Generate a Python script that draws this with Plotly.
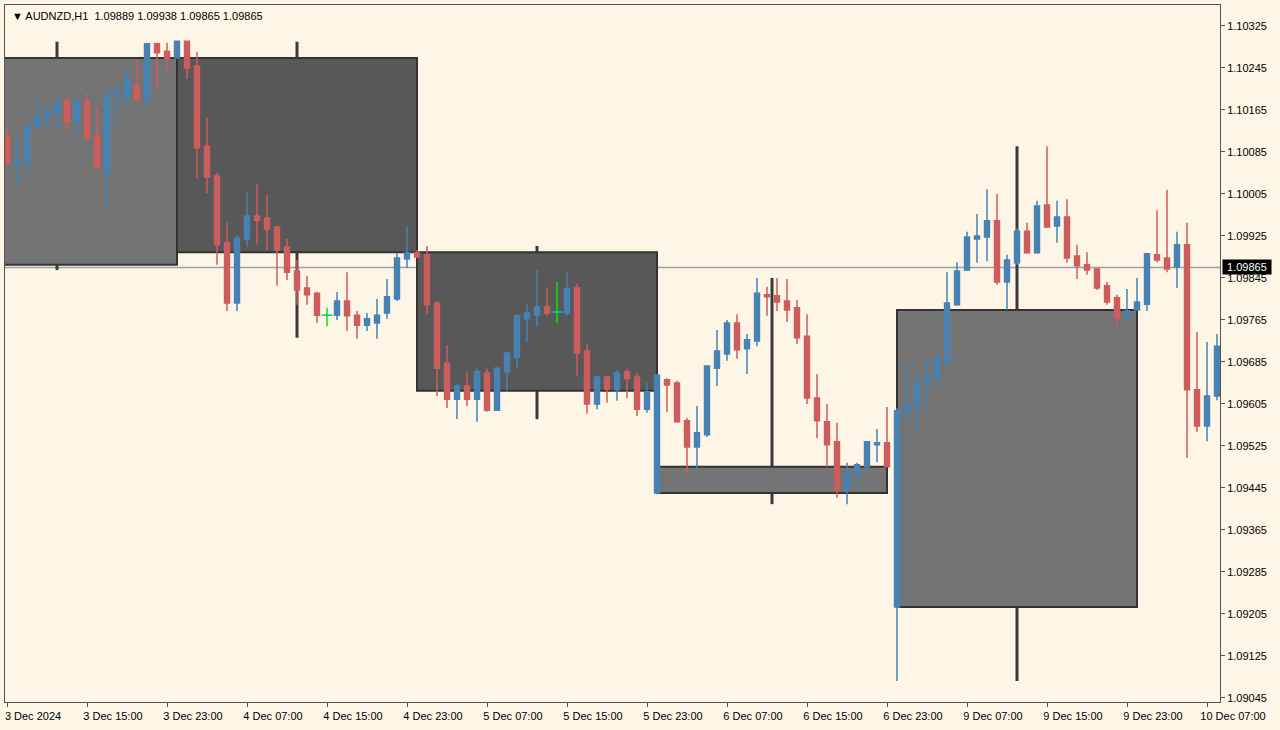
import plotly.graph_objects as go

# hourly AUDNZD bars, index 0 = 3 Dec 07:00
opens = [1.10115, 1.10062, 1.10064, 1.10133, 1.10150, 1.10159, 1.10182, 1.10142, 1.10182, 1.10117,
         1.10043, 1.10190, 1.10190, 1.10211, 1.10186, 1.10291, 1.10277, 1.10264, 1.10296, 1.10249,
         1.10096, 1.10039, 1.09912, 1.09797, 1.09919, 1.09963, 1.09959, 1.09942, 1.09904, 1.09858,
         1.09826, 1.09816, 1.09774, 1.09774, 1.09801, 1.09774, 1.09755, 1.09759, 1.09778, 1.09805,
         1.09881, 1.09893, 1.09889, 1.09797, 1.09683, 1.09614, 1.09639, 1.09614, 1.09664, 1.09593,
         1.09666, 1.09694, 1.09767, 1.09774, 1.09790, 1.09780, 1.09778, 1.09826, 1.09706, 1.09605,
         1.09656, 1.09632, 1.09666, 1.09656, 1.09595, 1.09435, 1.09651, 1.09645, 1.09573, 1.09523,
         1.09546, 1.09673, 1.09700, 1.09759, 1.09710, 1.09725, 1.09813, 1.09811, 1.09801, 1.09788,
         1.09734, 1.09616, 1.09571, 1.09533, 1.09441, 1.09470, 1.09485, 1.09527, 1.09531, 1.09218,
         1.09588, 1.09599, 1.09645, 1.09653, 1.09685, 1.09794, 1.09860, 1.09919, 1.09923, 1.09954,
         1.09837, 1.09874, 1.09934, 1.09893, 1.09984, 1.09944, 1.09961, 1.09887, 1.09870, 1.09862,
         1.09830, 1.09807, 1.09771, 1.09784, 1.09795, 1.09889, 1.09883, 1.09866, 1.09908, 1.09632,
         1.09563, 1.09620]
highs = [1.10133, 1.10110, 1.10146, 1.10180, 1.10175, 1.10190, 1.10190, 1.10186, 1.10197, 1.10169,
         1.10209, 1.10216, 1.10245, 1.10260, 1.10293, 1.10293, 1.10293, 1.10296, 1.10296, 1.10275,
         1.10150, 1.10045, 1.09950, 1.09927, 1.10009, 1.10024, 1.10003, 1.09942, 1.09919, 1.09879,
         1.09849, 1.09818, 1.09788, 1.09818, 1.09856, 1.09782, 1.09778, 1.09805, 1.09843, 1.09893,
         1.09942, 1.09898, 1.09906, 1.09801, 1.09717, 1.09643, 1.09666, 1.09673, 1.09672, 1.09673,
         1.09702, 1.09776, 1.09795, 1.09860, 1.09826, 1.09837, 1.09856, 1.09834, 1.09719, 1.09656,
         1.09656, 1.09670, 1.09672, 1.09664, 1.09645, 1.09660, 1.09654, 1.09649, 1.09578, 1.09601,
         1.09677, 1.09746, 1.09765, 1.09776, 1.09738, 1.09845, 1.09828, 1.09845, 1.09843, 1.09803,
         1.09776, 1.09662, 1.09605, 1.09569, 1.09493, 1.09493, 1.09534, 1.09557, 1.09599, 1.09597,
         1.09685, 1.09670, 1.09689, 1.09700, 1.09856, 1.09875, 1.09933, 1.09967, 1.10014, 1.10005,
         1.09889, 1.09940, 1.09950, 1.09992, 1.10096, 1.09992, 1.09995, 1.09908, 1.09894, 1.09864,
         1.09837, 1.09813, 1.09824, 1.09845, 1.09891, 1.09974, 1.10013, 1.09933, 1.09950, 1.09742,
         1.09723, 1.09738]
lows = [1.10060, 1.10022, 1.10041, 1.10125, 1.10129, 1.10129, 1.10125, 1.10115, 1.10108, 1.10054,
        1.09978, 1.10140, 1.10173, 1.10180, 1.10169, 1.10207, 1.10239, 1.10264, 1.10224, 1.10035,
        1.10007, 1.09870, 1.09782, 1.09782, 1.09904, 1.09910, 1.09898, 1.09830, 1.09841, 1.09794,
        1.09794, 1.09759, 1.09753, 1.09765, 1.09744, 1.09729, 1.09744, 1.09729, 1.09767, 1.09801,
        1.09864, 1.09883, 1.09776, 1.09620, 1.09597, 1.09576, 1.09601, 1.09571, 1.09590, 1.09592,
        1.09630, 1.09672, 1.09723, 1.09752, 1.09773, 1.09759, 1.09773, 1.09658, 1.09586, 1.09595,
        1.09607, 1.09611, 1.09616, 1.09582, 1.09588, 1.09433, 1.09590, 1.09569, 1.09472, 1.09472,
        1.09542, 1.09639, 1.09687, 1.09691, 1.09662, 1.09715, 1.09773, 1.09782, 1.09761, 1.09719,
        1.09605, 1.09540, 1.09485, 1.09426, 1.09414, 1.09445, 1.09475, 1.09494, 1.09485, 1.09077,
        1.09565, 1.09555, 1.09590, 1.09632, 1.09672, 1.09792, 1.09858, 1.09874, 1.09877, 1.09832,
        1.09784, 1.09870, 1.09891, 1.09891, 1.09940, 1.09912, 1.09874, 1.09843, 1.09851, 1.09822,
        1.09794, 1.09755, 1.09759, 1.09784, 1.09782, 1.09875, 1.09856, 1.09826, 1.09502, 1.09552,
        1.09534, 1.09612]
closes = [1.10064, 1.10072, 1.10134, 1.10154, 1.10163, 1.10180, 1.10142, 1.10182, 1.10112, 1.10056,
          1.10192, 1.10197, 1.10226, 1.10186, 1.10291, 1.10274, 1.10262, 1.10296, 1.10245, 1.10093,
          1.10037, 1.09908, 1.09797, 1.09921, 1.09963, 1.09955, 1.09938, 1.09898, 1.09856, 1.09822,
          1.09813, 1.09774, 1.09774, 1.09801, 1.09773, 1.09755, 1.09767, 1.09774, 1.09809, 1.09883,
          1.09893, 1.09885, 1.09794, 1.09673, 1.09614, 1.09639, 1.09614, 1.09666, 1.09593, 1.09673,
          1.09702, 1.09773, 1.09778, 1.09790, 1.09778, 1.09780, 1.09824, 1.09702, 1.09605, 1.09656,
          1.09633, 1.09664, 1.09653, 1.09595, 1.09628, 1.09660, 1.09641, 1.09571, 1.09523, 1.09550,
          1.09677, 1.09706, 1.09759, 1.09708, 1.09727, 1.09816, 1.09809, 1.09799, 1.09784, 1.09731,
          1.09616, 1.09573, 1.09527, 1.09441, 1.09473, 1.09489, 1.09533, 1.09531, 1.09485, 1.09592,
          1.09605, 1.09647, 1.09656, 1.09691, 1.09797, 1.09858, 1.09923, 1.09925, 1.09954, 1.09837,
          1.09879, 1.09934, 1.09893, 1.09982, 1.09942, 1.09961, 1.09883, 1.09868, 1.09860, 1.09826,
          1.09799, 1.09769, 1.09782, 1.09799, 1.09891, 1.09879, 1.09862, 1.09908, 1.09632, 1.09563,
          1.09620, 1.09715]
doji_bars = [32, 55]

# daily candles overlaid (start bar, end bar, OHLC)
day_start = [-7, 17, 41, 65, 89]
day_end = [17, 41, 65, 88, 113]
day_open = [1.09870, 1.10264, 1.09894, 1.09435, 1.09218]
day_high = [1.10295, 1.10295, 1.09906, 1.09845, 1.10096]
day_low = [1.09860, 1.09731, 1.09576, 1.09414, 1.09077]
day_close = [1.10264, 1.09894, 1.09630, 1.09485, 1.09784]

tick_bars = list(range(0, 121, 8))
tick_text = ["3 Dec 2024", "3 Dec 15:00", "3 Dec 23:00", "4 Dec 07:00", "4 Dec 15:00", "4 Dec 23:00",
             "5 Dec 07:00", "5 Dec 15:00", "5 Dec 23:00", "6 Dec 07:00", "6 Dec 15:00", "6 Dec 23:00",
             "9 Dec 07:00", "9 Dec 15:00", "9 Dec 23:00", "10 Dec 07:00"]
price_ticks = [1.09045 + 0.0008 * i for i in range(17)]
last_price = 1.09865

BG = "#fdf5e6"
BULL = "#4682b4"
BEAR = "#cd5c5c"
GREEN = "#00e600"
FONT = "Liberation Sans"

fig = go.Figure()

shapes = []
for s, e, o, h, l, c in zip(day_start, day_end, day_open, day_high, day_low, day_close):
    fill = "#747474" if c > o else "#585858"
    mid = (s + e) / 2
    shapes.append(dict(type="line", x0=mid, x1=mid, y0=l, y1=h, xref="x", yref="y",
                       line=dict(color="#3a3a3a", width=3), layer="below"))
    shapes.append(dict(type="rect", x0=s, x1=e, y0=min(o, c), y1=max(o, c), xref="x", yref="y",
                       fillcolor=fill, line=dict(color="#333333", width=2), layer="below"))
shapes.append(dict(type="line", x0=0, x1=1, xref="paper", y0=last_price, y1=last_price, yref="y",
                   line=dict(color="#9aa3ab", width=1.5), layer="below"))

idx = list(range(len(opens)))
normal = [i for i in idx if i not in doji_bars]
fig.add_trace(go.Candlestick(
    x=normal, open=[opens[i] for i in normal], high=[highs[i] for i in normal],
    low=[lows[i] for i in normal], close=[closes[i] for i in normal],
    increasing=dict(line=dict(color=BULL, width=1.5), fillcolor=BULL),
    decreasing=dict(line=dict(color=BEAR, width=1.5), fillcolor=BEAR),
    whiskerwidth=0, showlegend=False))
fig.add_trace(go.Candlestick(
    x=doji_bars, open=[opens[i] for i in doji_bars], high=[highs[i] for i in doji_bars],
    low=[lows[i] for i in doji_bars], close=[closes[i] for i in doji_bars],
    increasing=dict(line=dict(color=GREEN, width=1.5), fillcolor=GREEN),
    decreasing=dict(line=dict(color=GREEN, width=1.5), fillcolor=GREEN),
    whiskerwidth=0, showlegend=False))
fig.add_trace(go.Scatter(
    x=doji_bars, y=[closes[i] for i in doji_bars], mode="markers",
    marker=dict(symbol="line-ew-open", size=8, line=dict(color=GREEN, width=1.5)),
    showlegend=False, hoverinfo="skip"))

fig.update_layout(
    width=1280, height=730,
    margin=dict(l=5, r=60, t=5, b=28),
    paper_bgcolor=BG, plot_bgcolor=BG,
    shapes=shapes,
    font=dict(family=FONT, size=11, color="#000000"),
    annotations=[
        dict(text="▼ AUDNZD,H1  1.09889 1.09938 1.09865 1.09865", x=0.004, y=0.995,
             xref="paper", yref="paper", xanchor="left", yanchor="top", showarrow=False,
             font=dict(size=11, family=FONT)),
        dict(text=" 1.09865 ", x=1.002, y=last_price, xref="paper", yref="y", xanchor="left",
             showarrow=False, bgcolor="#000000", font=dict(color="#ffffff", size=11, family=FONT)),
    ],
)
fig.update_xaxes(range=[-0.2, 121.3], tickvals=tick_bars, ticktext=tick_text,
                 ticks="outside", ticklen=4, tickcolor="#555", ticklabelshift=26,
                 showgrid=False, rangeslider_visible=False, zeroline=False,
                 showline=True, linecolor="#555", linewidth=1, mirror=True)
fig.update_yaxes(range=[1.09037, 1.10365], side="right", tickvals=price_ticks,
                 tickformat=".5f", ticks="outside", ticklen=4, tickcolor="#555",
                 showgrid=False, zeroline=False,
                 showline=True, linecolor="#555", linewidth=1, mirror=True)

fig.write_html("out.html", config={"displayModeBar": False},
               post_script="document.body.style.margin='0px';")
